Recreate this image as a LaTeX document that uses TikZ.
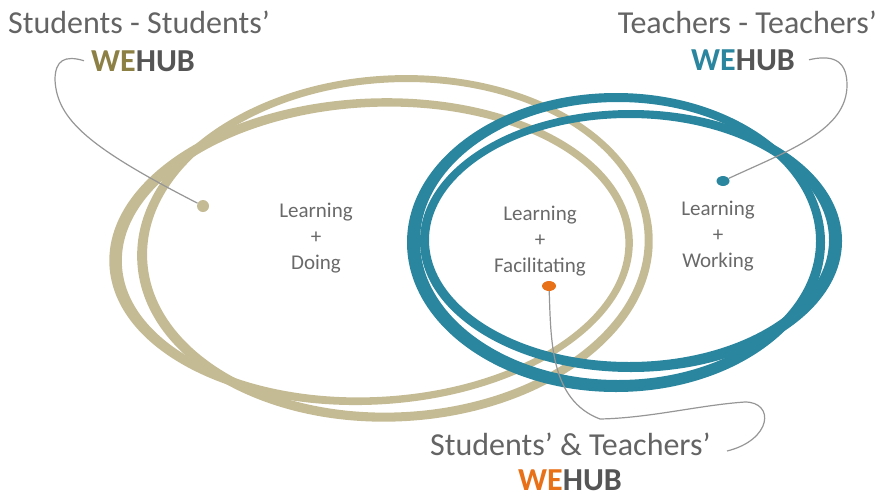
\documentclass[tikz,border=0pt]{standalone}
\usepackage{fontspec}
\setmainfont{Carlito}
\usetikzlibrary{shapes.geometric}
\definecolor{tanc}{RGB}{196,187,148}
\definecolor{tealc}{RGB}{42,133,158}
\definecolor{orangec}{RGB}{232,112,22}
\definecolor{olivec}{RGB}{140,128,68}
\definecolor{hubc}{RGB}{85,85,85}
\definecolor{titlec}{RGB}{100,100,100}
\definecolor{labelc}{RGB}{105,105,105}
\definecolor{linkc}{RGB}{150,150,150}
\tikzset{
  title/.style={inner sep=0pt, text=titlec, font=\fontsize{32}{38}\selectfont},
  hub/.style={inner sep=0pt, text=hubc, font=\fontsize{32}{38}\selectfont\bfseries},
  zone/.style={inner sep=0pt, text=labelc, align=center, font=\fontsize{21}{26}\selectfont},
  link/.style={draw=linkc, line width=1.2pt},
}
\begin{document}
\begin{tikzpicture}[x=1pt,y=-1pt]
\useasboundingbox (0,0) rectangle (882,498);
% tan loops (students)
\begin{scope}[rotate around={3:(383,250)}]
\fill[tanc, even odd rule] (371,251) ellipse [x radius=262, y radius=153] (373.5,251.5) ellipse [x radius=252, y radius=145];
\fill[tanc, even odd rule] (395,249) ellipse [x radius=258, y radius=173] (396,248) ellipse [x radius=249, y radius=165];
\end{scope}
% teal loops (teachers)
\fill[tealc, even odd rule] (631,241) ellipse [x radius=211, y radius=131] (629,240) ellipse [x radius=200, y radius=122];
\fill[tealc, even odd rule] (616,242.5) ellipse [x radius=209, y radius=149.5] (618,241) ellipse [x radius=198, y radius=139];
% titles
\node[title, anchor=base west] (tS) at (8,33) {Students - Students’};
\node[hub, anchor=base west] (hS) at (91,71) {\textcolor{olivec}{WE}HUB};
\node[title, anchor=base east] (tT) at (877,33) {Teachers - Teachers’};
\node[hub, anchor=base west] (hT) at (691,70) {\textcolor{tealc}{WE}HUB};
\node[title, anchor=base west] (tB) at (430,455) {Students’ \& Teachers’};
\node[hub, anchor=base west] (hB) at (518,490) {\textcolor{orangec}{WE}HUB};
% zone labels
\node[zone] (zS) at (316,238.5) {Learning\\+\\Doing};
\node[zone] (zB) at (540,241.5) {Learning\\+\\Facilitating};
\node[zone] (zT) at (718,236.5) {Learning\\+\\Working};
% dots
\node[circle, fill=tanc, minimum size=12pt, inner sep=0pt] (dS) at (203,206) {};
\node[ellipse, fill=tealc, minimum width=13pt, minimum height=10pt, inner sep=0pt] (dT) at (723,181) {};
\node[ellipse, fill=orangec, minimum width=14pt, minimum height=10pt, inner sep=0pt] (dB) at (549,286) {};
% connectors
\coordinate (cS) at ([xshift=-7pt]hS.west);
\coordinate (cT) at ([xshift=14pt]hT.east);
\coordinate (cB) at (727,451);
\draw[link] (cS) .. controls (65,55) and (55,60) .. (55,80) .. controls (57,120) and (90,148) .. (dS);
\draw[link] (cT) .. controls (830,55) and (847,58) .. (847,85) .. controls (847,130) and (790,150) .. (dT);
\draw[link] (dB) .. controls (551,340) and (550,400) .. (600,419) .. controls (650,418) and (700,405) .. (745,402) .. controls (775,402) and (772,440) .. (cB);
\end{tikzpicture}
\end{document}
